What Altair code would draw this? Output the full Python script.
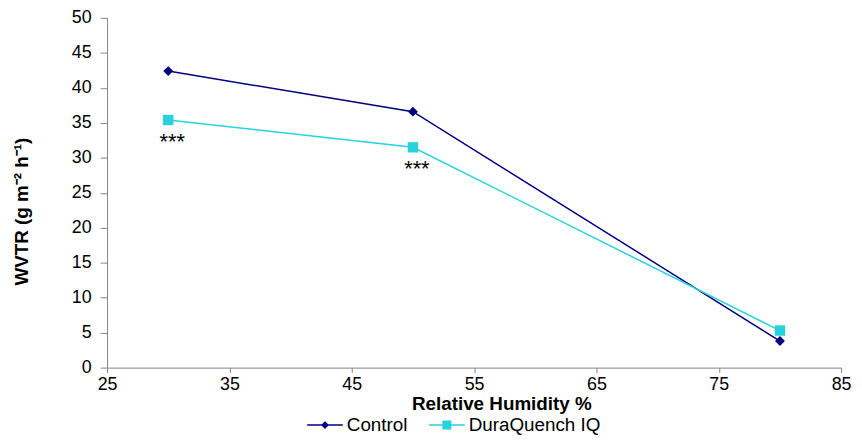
import altair as alt
import pandas as pd

# ---- data ----
humidity = [30, 50, 80]
control = [42.4, 36.6, 3.8]
duraquench = [35.4, 31.5, 5.3]
series_names = ["Control", "DuraQuench IQ"]
series_colors = ["#000080", "#26D3DA"]
series_markers = ["diamond", "square"]
x_ticks = [25, 35, 45, 55, 65, 75, 85]
y_ticks = [0, 5, 10, 15, 20, 25, 30, 35, 40, 45, 50]
annot_x = [30, 50]
annot_y = [32.2, 28.4]
annot_text = ["***", "***"]

df = pd.DataFrame({
    "rh": humidity + humidity,
    "wvtr": control + duraquench,
    "series": [series_names[0]] * len(humidity) + [series_names[1]] * len(humidity),
})
ann = pd.DataFrame({"rh": annot_x, "wvtr": annot_y, "label": annot_text})

FONT = "Liberation Sans"

x_enc = alt.X(
    "rh:Q",
    scale=alt.Scale(domain=[25, 85], nice=False, zero=False),
    axis=alt.Axis(
        values=x_ticks, title="Relative Humidity %", tickSize=5, labelPadding=3,
        labelFlush=False,
        titleX=398, titleY=36, titleBaseline="middle", titleAlign="center",
    ),
)
y_enc = alt.Y(
    "wvtr:Q",
    scale=alt.Scale(domain=[0, 50], nice=False),
    axis=alt.Axis(
        values=y_ticks, title="WVTR (g m⁻² h⁻¹)", tickSize=7, labelPadding=9,
        labelFlush=False,
        titleX=-86, titleY=195, titleBaseline="middle", titleAlign="center",
    ),
)

layers = []
for name, col, mk, sz in zip(series_names, series_colors, series_markers, [100, 110]):
    base = alt.Chart(df).transform_filter(alt.datum.series == name)
    layers.append(base.mark_line(strokeWidth=1.5, color=col).encode(x=x_enc, y=y_enc))
    layers.append(base.mark_point(filled=True, opacity=1, size=sz, shape=mk, color=col)
                  .encode(x=x_enc, y=y_enc))

# legend-only layer (no data rows drawn): line + marker symbols
path_control = "M-1,-0.042H1V0.042H-1Z M0,-0.22L0.22,0L0,0.22L-0.22,0Z"
path_dq = "M-1,-0.042H1V0.042H-1Z M-0.25,-0.25H0.25V0.25H-0.25Z"
leg = dict(
    orient="none", legendX=202, legendY=393, direction="horizontal", title=None,
    symbolSize=1296, labelFontSize=19, labelFont=FONT, labelColor="black",
    labelOffset=4, columnPadding=21, padding=0, symbolStrokeWidth=0,
)
legend_layer = alt.Chart(df).mark_point(filled=True, opacity=1).transform_filter("false").encode(
    x=x_enc, y=y_enc,
    color=alt.Color("series:N", scale=alt.Scale(domain=series_names, range=series_colors),
                    legend=alt.Legend(**leg)),
    shape=alt.Shape("series:N", scale=alt.Scale(domain=series_names, range=[path_control, path_dq]),
                    legend=alt.Legend(**leg)),
)
layers.append(legend_layer)

stars = alt.Chart(ann).mark_text(fontSize=22, dx=4, align="center", baseline="middle",
                                 color="black", font=FONT).encode(
    x=x_enc, y=y_enc, text="label:N",
)
layers.append(stars)

chart = alt.layer(*layers).properties(
    width=741, height=353,
    autosize=alt.AutoSizeParams(type="none"),
    padding={"left": 100, "top": 8, "right": 13, "bottom": 66},
).configure_view(stroke=None).configure_axis(
    grid=False, domainColor="#858585", tickColor="#858585", domainWidth=1, tickWidth=1,
    labelFont=FONT, labelFontSize=18, labelColor="black",
    titleFont=FONT, titleFontSize=19, titleFontWeight="bold", titleColor="black",
)

chart.save("out.html", embed_options={"renderer": "svg", "actions": False})
